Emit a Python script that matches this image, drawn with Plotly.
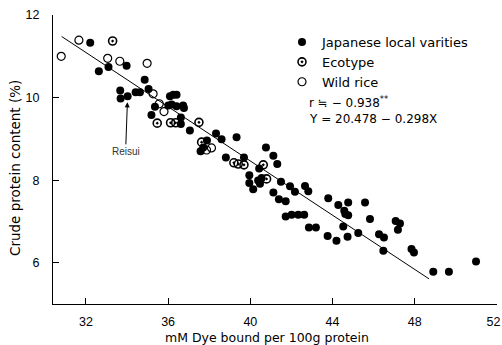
import plotly.graph_objects as go

# Japanese local varieties (filled)
jp_x = [32.21, 33.10, 33.98, 32.63, 34.86, 35.05, 33.67, 33.69, 34.03, 34.42, 34.63,
        36.09, 36.25, 36.41, 35.36, 36.01, 36.17, 36.41, 36.73, 36.77, 35.19, 36.62,
        36.62, 37.06, 38.33, 38.60, 39.33, 37.89, 37.71, 37.58, 38.81, 39.69, 39.95,
        39.95, 40.14, 40.38, 40.47, 40.55, 40.43, 40.76, 41.12, 41.31, 41.12, 41.49,
        41.93, 42.17, 42.66, 42.82, 41.39, 41.72, 41.72, 42.01, 42.33, 42.62, 42.85,
        43.19, 43.79, 44.28, 44.76, 44.57, 44.62, 44.76, 45.58, 45.82, 44.52, 43.76,
        44.19, 44.73, 45.25, 46.26, 46.50, 47.07, 47.28, 47.18, 46.47, 47.84, 47.96,
        48.90, 49.66, 50.98]
jp_y = [11.33, 10.74, 10.77, 10.64, 10.43, 10.21, 10.17, 9.98, 10.03, 10.13, 10.13,
        10.03, 10.07, 10.07, 9.78, 9.81, 9.83, 9.79, 9.81, 9.75, 9.58, 9.52,
        9.36, 9.20, 9.13, 8.99, 9.04, 8.96, 8.79, 8.70, 8.55, 8.55, 8.12,
        7.93, 7.78, 7.99, 7.91, 8.05, 8.28, 8.79, 8.59, 8.39, 7.70, 7.96,
        7.85, 7.72, 7.86, 7.73, 7.54, 7.49, 7.12, 7.16, 7.16, 7.16, 6.85,
        6.85, 7.56, 7.40, 7.46, 7.26, 7.18, 7.15, 7.46, 7.06, 6.88, 6.65,
        6.53, 6.63, 6.72, 6.69, 6.61, 7.01, 6.95, 6.80, 6.29, 6.33, 6.25,
        5.78, 5.78, 6.03]

# Ecotype (half-filled)
eco_x = [33.30, 35.47, 36.12, 36.37, 37.50, 37.63, 39.20, 39.41, 39.69, 40.63, 40.79]
eco_y = [11.37, 9.38, 9.39, 9.39, 9.40, 8.92, 8.42, 8.39, 8.37, 8.37, 8.03]

# Wild rice (open)
wild_x = [30.80, 31.66, 33.06, 33.65, 34.98, 35.27, 35.57, 35.80, 37.87, 38.11]
wild_y = [11.00, 11.39, 10.95, 10.88, 10.83, 10.09, 9.85, 9.66, 8.73, 8.78]

# Regression line as drawn in the figure (end points)
line_x = [30.82, 48.69]
line_y = [11.48, 5.61]

x_ticks = [32, 36, 40, 44, 48, 52]
x_ticktext = ["32", "36", "40", "44", "48", "52\u2007"]
y_ticks = [6, 8, 10, 12]

reisui_x, reisui_y = 34.03, 10.03

FONT = "Liberation Sans"
TFONT = "DejaVu Sans"

# plot-area geometry in pixels
L, R, T, B = 53, 5, 15, 41
PW, PH = 502 - L - R, 345 - T - B


def px(xp):
    return (xp - L) / PW


def py(yp):
    return (345 - B - yp) / PH


fig = go.Figure()
fig.add_trace(go.Scatter(x=line_x, y=line_y, mode="lines",
                         line=dict(color="black", width=1), showlegend=False,
                         hoverinfo="skip"))
fig.add_trace(go.Scatter(x=jp_x, y=jp_y, mode="markers", name="Japanese local varities",
                         marker=dict(symbol="circle", size=8, color="black")))
fig.add_trace(go.Scatter(x=eco_x, y=eco_y, mode="markers", name="Ecotype",
                         marker=dict(symbol="circle-open-dot", size=8, color="black",
                                     line=dict(width=1.6, color="black"))))
fig.add_trace(go.Scatter(x=wild_x, y=wild_y, mode="markers", name="Wild rice",
                         marker=dict(symbol="circle-open", size=8, color="black",
                                     line=dict(width=1.2, color="black"))))

fig.add_annotation(x=reisui_x, y=reisui_y, text="Reisui", showarrow=True,
                   ax=-2, ay=55, arrowhead=2, arrowsize=1, arrowwidth=1,
                   arrowcolor="black", standoff=6,
                   font=dict(family=FONT, size=10, color="#333"))

fig.add_annotation(xref="paper", yref="paper", x=px(307), y=py(102),
                   xanchor="left", yanchor="middle", showarrow=False,
                   text="r ≒ − 0.938<sup>**</sup>",
                   font=dict(family=TFONT, size=12, color="black"))
fig.add_annotation(xref="paper", yref="paper", x=px(307), y=py(119),
                   xanchor="left", yanchor="middle", showarrow=False,
                   text="Y = 20.478 − 0.298X",
                   font=dict(family=TFONT, size=12, color="black"))

# axis titles
fig.add_annotation(xref="paper", yref="paper", x=px(267), y=py(337),
                   xanchor="center", yanchor="middle", showarrow=False,
                   text="mM Dye bound per 100g protein",
                   font=dict(family=TFONT, size=12.5, color="black"))
fig.add_annotation(xref="paper", yref="paper", x=px(15), y=py(168),
                   xanchor="center", yanchor="middle", showarrow=False, textangle=-90,
                   text="Crude protein content (%)",
                   font=dict(family=TFONT, size=13.5, color="black"))

fig.update_layout(
    width=502, height=345,
    margin=dict(l=L, r=R, t=T, b=B, autoexpand=False),
    paper_bgcolor="white", plot_bgcolor="white",
    font=dict(family=FONT, size=12.5, color="black"),
    showlegend=True,
    legend=dict(x=px(282), y=py(27), xanchor="left", yanchor="top",
                bgcolor="rgba(0,0,0,0)", font=dict(family=TFONT, size=13),
                tracegroupgap=0),
    xaxis=dict(range=[30.4, 52], tickvals=x_ticks, ticktext=x_ticktext,
               ticks="inside", ticklen=6,
               tickcolor="black", showline=True, linecolor="black", linewidth=1.2,
               showgrid=False, zeroline=False, ticklabelstandoff=6, automargin=False,
               ticklabeloverflow="allow"),
    yaxis=dict(range=[5, 12], tickvals=y_ticks, ticks="inside", ticklen=6,
               tickcolor="black", showline=True, linecolor="black", linewidth=1.2,
               showgrid=False, zeroline=False, ticklabelstandoff=10, automargin=False,
               ticklabeloverflow="allow"),
)

fig.write_html("out.html", config={"displayModeBar": False},
               post_script="document.body.style.margin='0';document.body.style.overflow='hidden';")
